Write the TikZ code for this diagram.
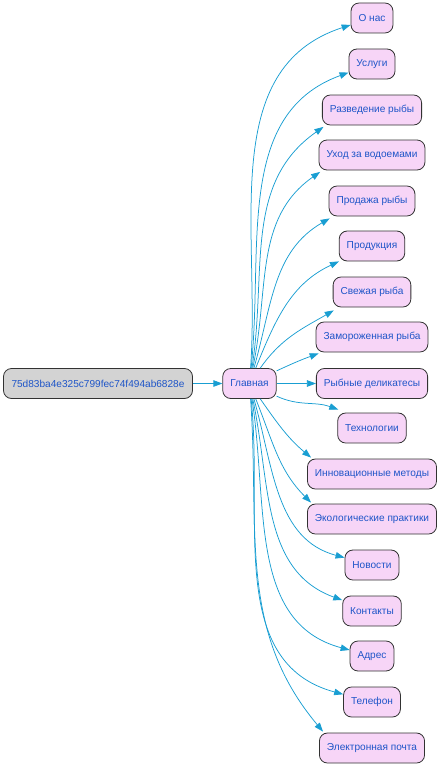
\documentclass[tikz,border=0pt]{standalone}
\usepackage{fontspec}
\setmainfont{Liberation Sans}
\usetikzlibrary{arrows.meta}
\definecolor{pagetext}{RGB}{30,85,200}
\definecolor{pagefill}{RGB}{247,213,247}
\definecolor{rootfill}{RGB}{211,211,211}
\definecolor{linkcol}{RGB}{25,158,210}
\definecolor{boxline}{RGB}{50,50,50}

\begin{document}
\begin{tikzpicture}[x=1pt,y=-1pt,
	page/.style={draw=boxline,line width=0.8pt,fill=pagefill,rounded corners=8pt,minimum height=30pt,inner xsep=7.5pt,text=pagetext,font=\fontsize{10.1}{12}\selectfont},
	rootpage/.style={page,fill=rootfill,inner xsep=8pt},
	link/.style={draw=linkcol,line width=0.75pt,-{Triangle[length=9pt,width=6.5pt]}}]
	\useasboundingbox (0,0) rectangle (442,768);
	% root and main page
	\node[rootpage] (root) at (98,383.5) {75d83ba4e325c799fec74f494ab6828e};
	\node[page] (glav) at (249.5,383.5) {Главная};
	% pages linked from the main page
	\node[page] (onas) at (372,18) {О нас};
	\node[page] (usl) at (372,64) {Услуги};
	\node[page] (razv) at (372,110) {Разведение рыбы};
	\node[page] (uhod) at (372,155) {Уход за водоемами};
	\node[page] (prod) at (372,201) {Продажа рыбы};
	\node[page] (produk) at (372,246) {Продукция};
	\node[page] (svezh) at (372,292) {Свежая рыба};
	\node[page] (zamor) at (372,337) {Замороженная рыба};
	\node[page] (delik) at (372,383.5) {Рыбные деликатесы};
	\node[page] (tehn) at (372,428) {Технологии};
	\node[page] (innov) at (372,474) {Инновационные методы};
	\node[page] (ekol) at (372,519) {Экологические практики};
	\node[page] (nov) at (372,565) {Новости};
	\node[page] (kont) at (372,611) {Контакты};
	\node[page] (adr) at (372,656) {Адрес};
	\node[page] (tel) at (372,702) {Телефон};
	\node[page] (mail) at (372,748) {Электронная почта};
	% links
	\draw[link] (root) -- (glav);
	\draw[link] (glav) to[out=86,in=198] (onas);
	\draw[link] (glav) to[out=84,in=200] (usl);
	\draw[link] (glav) to[out=81,in=215] ([xshift=1.5pt,yshift=-1.5pt]razv.south west);
	\draw[link] (glav) to[out=78,in=215] ([xshift=1.5pt,yshift=-1.5pt]uhod.south west);
	\draw[link] (glav) to[out=74,in=210] ([xshift=1pt,yshift=-2pt]prod.south west);
	\draw[link] (glav) to[out=68,in=205] (produk);
	\draw[link] (glav) to[out=55,in=210] ([xshift=1pt,yshift=-3pt]svezh.south west);
	\draw[link] (glav) to[out=25,in=200] ([xshift=3pt,yshift=-1pt]zamor.south west);
	\draw[link] (glav) -- (delik);
	\draw[link] (glav) to[out=-25,in=160] ([xshift=1pt,yshift=3pt]tehn.north west);
	\draw[link] (glav) to[out=-55,in=140] ([xshift=4pt,yshift=1pt]innov.north west);
	\draw[link] (glav) to[out=-68,in=135] ([xshift=4pt,yshift=1pt]ekol.north west);
	\draw[link] (glav) to[out=-74,in=165] (nov);
	\draw[link] (glav) to[out=-78,in=160] (kont);
	\draw[link] (glav) to[out=-81,in=165] (adr);
	\draw[link] (glav) to[out=-84,in=165] (tel);
	\draw[link] (glav) to[out=-86,in=130] ([xshift=4pt,yshift=1pt]mail.north west);
\end{tikzpicture}
\end{document}
